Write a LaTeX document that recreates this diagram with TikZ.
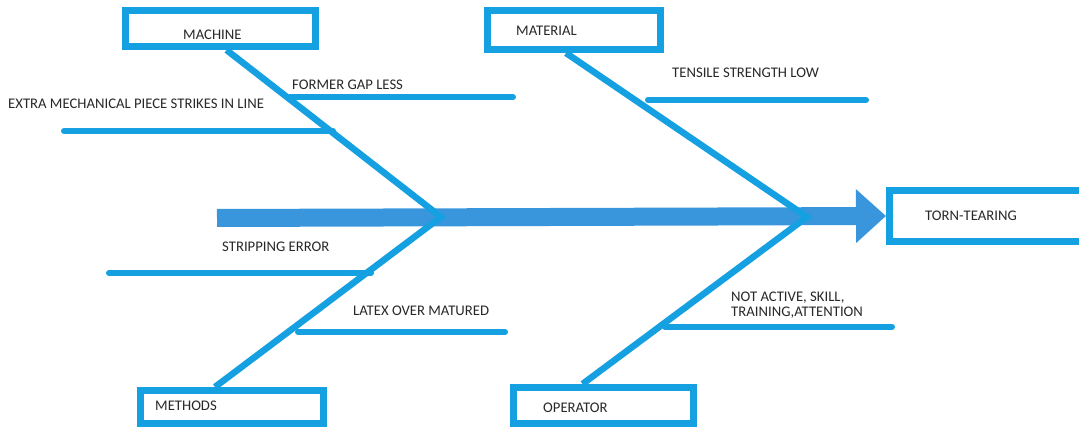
\documentclass[tikz,border=0pt]{standalone}
\usepackage{fontspec}
\setmainfont{Carlito}
\usepackage{xcolor}
\usetikzlibrary{arrows.meta,positioning,calc}
\definecolor{bonecol}{RGB}{20,160,225}
\definecolor{spinecol}{RGB}{58,150,220}
\definecolor{textcol}{RGB}{40,40,40}

\begin{document}
\begin{tikzpicture}[x=1pt,y=-1pt,
  catbox/.style={draw=bonecol,line width=7pt,inner sep=0pt},
  lbl/.style={anchor=west,inner sep=0pt,text=textcol,align=left,font=\fontsize{14.7}{15.5}\selectfont},
  bone/.style={draw=bonecol,line width=6.5pt,line join=miter},
  rib/.style={draw=bonecol,line width=6pt,line cap=round},
  spine/.style={draw=spinecol,line width=18pt,-{Triangle[length=30pt,width=52pt]}}]
\useasboundingbox (0,0) rectangle (1079,427);

% category boxes
\node[catbox,minimum width=190pt,minimum height=36pt] (machine) at (220.5,28.5) {};
\node[catbox,minimum width=173pt,minimum height=39pt] (material) at (574,30) {};
\node[catbox,minimum width=183pt,minimum height=33pt] (methods) at (232,407) {};
\node[catbox,minimum width=180pt,minimum height=36pt] (operator) at (603.5,405.5) {};
\node[catbox,minimum width=193pt,minimum height=51pt] (torn) at (986,216) {};

\node[lbl] (machinelbl) at (183,35) {MACHINE};
\node[lbl] (materiallbl) at (516,31) {MATERIAL};
\node[lbl] (methodslbl) at (155,406) {METHODS};
\node[lbl] (operatorlbl) at (543,408) {OPERATOR};
\node[lbl] (tornlbl) at (925,216) {TORN-TEARING};

% spine and joints
\coordinate (tail) at (217,218);
\coordinate (j1) at (441,217);
\coordinate (j2) at (807,217);
\draw[spine] (tail) -- (torn.west);

\draw[bone] ([xshift=6pt]machine.south) -- (j1) -- ([xshift=-17pt]methods.north);
\draw[bone] ([xshift=-8pt]material.south) -- (j2) -- ([xshift=-21pt]operator.north);

% causes
\draw[rib] (290,97) -- (513,97);
\node[lbl] (gap) at (292,85) {FORMER GAP LESS};
\draw[rib] (64,131) -- (333,131);
\node[lbl] (extra) at (8,104) {EXTRA MECHANICAL PIECE STRIKES IN LINE};
\draw[rib] (648,100) -- (866,100);
\node[lbl] (tensile) at (672,73) {TENSILE STRENGTH LOW};
\draw[rib] (109,273) -- (371,273);
\node[lbl] (strip) at (222,247) {STRIPPING ERROR};
\draw[rib] (298,332) -- (505,332);
\node[lbl] (latex) at (353,311) {LATEX OVER MATURED};
\draw[rib] (665,327) -- (892,327);
\node[lbl] (notactive) at (731,305) {NOT ACTIVE, SKILL,\\TRAINING,ATTENTION};
\end{tikzpicture}
\end{document}
